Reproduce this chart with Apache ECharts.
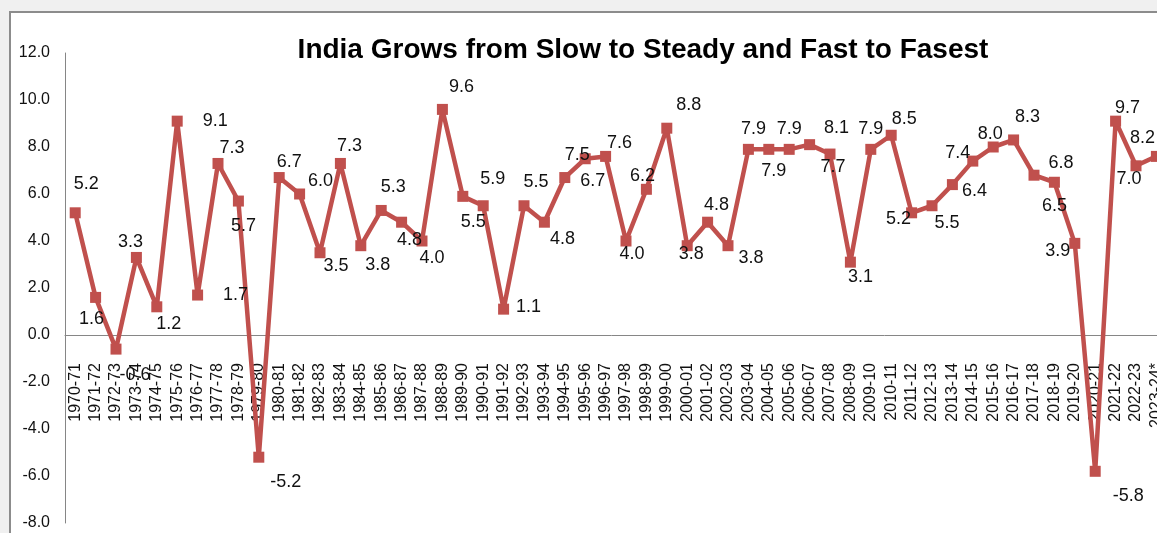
<!DOCTYPE html>
<html>
<head>
<meta charset="utf-8">
<script src="https://cdn.jsdelivr.net/npm/echarts@6/dist/echarts.min.js"></script>
<style>
html,body{margin:0;padding:0;background:#f0f0f0;}
#chart{width:1157px;height:533px;}
</style>
</head>
<body>
<div id="chart"></div>
<script>
// ---- data ----
const titleText = 'India Grows from Slow to Steady and Fast to Fasest';
const years = ['1970-71','1971-72','1972-73','1973-74','1974-75','1975-76','1976-77','1977-78','1978-79','1979-80',
  '1980-81','1981-82','1982-83','1983-84','1984-85','1985-86','1986-87','1987-88','1988-89','1989-90',
  '1990-91','1991-92','1992-93','1993-94','1994-95','1995-96','1996-97','1997-98','1998-99','1999-00',
  '2000-01','2001-02','2002-03','2003-04','2004-05','2005-06','2006-07','2007-08','2008-09','2009-10',
  '2010-11','2011-12','2012-13','2013-14','2014-15','2015-16','2016-17','2017-18','2018-19','2019-20',
  '2020-21','2021-22','2022-23','2023-24*'];
const growth = [5.2,1.6,-0.6,3.3,1.2,9.1,1.7,7.3,5.7,-5.2,
  6.7,6.0,3.5,7.3,3.8,5.3,4.8,4.0,9.6,5.9,
  5.5,1.1,5.5,4.8,6.7,7.5,7.6,4.0,6.2,8.8,
  3.8,4.8,3.8,7.9,7.9,7.9,8.1,7.7,3.1,7.9,
  8.5,5.2,5.5,6.4,7.4,8.0,8.3,6.8,6.5,3.9,
  -5.8,9.1,7.2,7.6];
const growthLabels = ['5.2','1.6','-0.6','3.3','1.2','9.1','1.7','7.3','5.7','-5.2',
  '6.7','6.0','3.5','7.3','3.8','5.3','4.8','4.0','9.6','5.9',
  '5.5','1.1','5.5','4.8','6.7','7.5','7.6','4.0','6.2','8.8',
  '3.8','4.8','3.8','7.9','7.9','7.9','8.1','7.7','3.1','7.9',
  '8.5','5.2','5.5','6.4','7.4','8.0','8.3','6.8','6.5','3.9',
  '-5.8','9.7','7.0','8.2'];
const yMin = -8, yMax = 12, yStep = 2;
// ---- layout: label offsets from the marker centre (px) ----
const labelOffsets = [[11,-29],[-4,22],[19,26],[-6,-15],[12,17],[38,0],[38,0],[14,-15],[5,25],[27,25],
  [10,-16],[21,-13],[16,13],[9,-17],[17,19],[12,-23],[8,18],[10,17],[19,-22],[30,-17],
  [-10,16],[25,-2],[12,-24],[18,17],[28,3],[-8,-4],[14,-13],[6,13],[-4,-13],[22,-23],
  [4,8],[9,-17],[23,12],[5,-20],[5,22],[0,-20],[27,-17],[3,13],[10,15],[0,-20],
  [13,-16],[-13,6],[15,17],[22,6],[-15,-8],[-3,-13],[14,-23],[27,-12],[0,24],[-17,8],
  [33,25],[12,-13],[-7,13],[-14,-18]];

const FONT = '"Liberation Sans", Arial, sans-serif';
const GRID_LEFT = 65, GRID_RIGHT = -9.6, GRID_TOP = 53, GRID_BOTTOM = 10;
const PLOT_H = 533 - GRID_TOP - GRID_BOTTOM;
const zeroY = GRID_TOP + PLOT_H * (yMax - 0) / (yMax - yMin);

const chart = echarts.init(document.getElementById('chart'), null, {renderer:'canvas'});
const seriesData = growth.map((v, i) => ({
  value: v,
  label: { offset: labelOffsets[i] }
}));
chart.setOption({
  backgroundColor: '#f0f0f0',
  animation: false,
  graphic: [
    { type: 'rect', z: -10, silent: true,
      shape: { x: 10, y: 12, width: 1200, height: 600 },
      style: { fill: '#ffffff', stroke: '#8c8c8c', lineWidth: 2 } }
  ],
  title: {
    text: titleText, left: 638, top: 31, textAlign: 'center',
    textStyle: { fontFamily: FONT, fontSize: 28, fontWeight: 'bold', color: '#000' }
  },
  grid: [
    { left: GRID_LEFT, right: GRID_RIGHT, top: GRID_TOP, bottom: GRID_BOTTOM, outerBoundsMode: 'none', containLabel: false },
    { left: GRID_LEFT, right: GRID_RIGHT, top: GRID_TOP, height: zeroY - GRID_TOP, outerBoundsMode: 'none', containLabel: false }
  ],
  xAxis: [
    { type: 'category', data: years, boundaryGap: true, gridIndex: 0,
      axisLine: { onZero: true, lineStyle: { color: '#868686', width: 1 } },
      axisTick: { show: false }, axisLabel: { show: false }, splitLine: { show: false } },
    { type: 'category', data: years, boundaryGap: true, gridIndex: 1, position: 'bottom',
      axisLine: { show: false }, axisTick: { show: false }, splitLine: { show: false },
      axisLabel: { show: true, interval: 0, rotate: 90, margin: 28,
        color: '#111', fontFamily: FONT, fontSize: 16 } }
  ],
  yAxis: [
    { type: 'value', min: yMin, max: yMax, interval: yStep, gridIndex: 0,
      axisLine: { show: true, onZero: false, lineStyle: { color: '#868686', width: 1 } },
      axisTick: { show: false }, splitLine: { show: false },
      axisLabel: { margin: 15, color: '#111', fontFamily: FONT, fontSize: 16,
        formatter: v => v.toFixed(1) } },
    { type: 'value', gridIndex: 1, show: false, min: 0, max: 1 }
  ],
  series: [{
    type: 'line', data: seriesData, xAxisIndex: 0, yAxisIndex: 0,
    symbol: 'rect', symbolSize: 11,
    lineStyle: { color: '#C0504D', width: 4.5 },
    itemStyle: { color: '#C0504D' },
    clip: false,
    label: {
      show: true, position: 'inside', align: 'center', verticalAlign: 'middle',
      color: '#111', fontFamily: FONT, fontSize: 18,
      formatter: p => growthLabels[p.dataIndex]
    }
  }]
});
</script>
</body>
</html>
